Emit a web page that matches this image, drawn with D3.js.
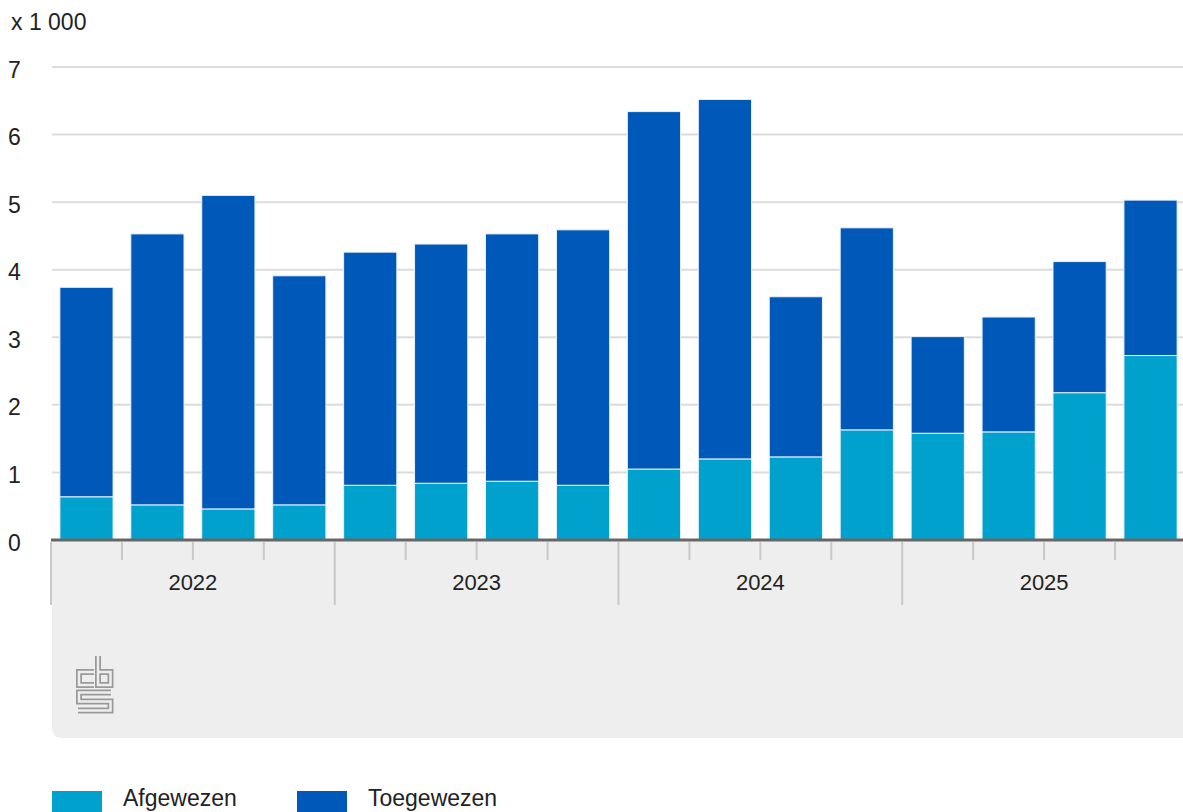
<!DOCTYPE html>
<html><head><meta charset="utf-8">
<script src="https://cdn.jsdelivr.net/npm/d3@7"></script>
<style>
html,body{margin:0;padding:0;background:#fff;overflow:hidden}
svg{display:block;font-family:"Liberation Sans",Arial,Helvetica,sans-serif}
</style></head><body>
<svg id="c" width="1183" height="812"></svg>
<script>
const quarters = ["2022 Q1","2022 Q2","2022 Q3","2022 Q4","2023 Q1","2023 Q2","2023 Q3","2023 Q4","2024 Q1","2024 Q2","2024 Q3","2024 Q4","2025 Q1","2025 Q2","2025 Q3","2025 Q4"];
const years = ["2022","2023","2024","2025"];
const afgewezen  = [640,520,460,520,810,840,870,810,1050,1200,1230,1630,1580,1600,2180,2730];
const toegewezen = [3100,4010,4640,3390,3450,3540,3660,3780,5290,5320,2370,2990,1430,1700,1940,2300];
const yTicks = [0,1,2,3,4,5,6,7];
const seriesNames = ["Afgewezen","Toegewezen"];
const colors = ["#00a1cd","#0058b8"];

const svg = d3.select("#c");
const x0 = 51, x1 = 1186, yBase = 540;
const x = d3.scaleBand().domain(quarters).range([x0, x1]).paddingInner(0.25).paddingOuter(0.125);
const y = d3.scaleLinear().domain([0, 7000]).range([yBase, 67]);
const step = x.step();

// grey x-axis band
const bandTop = 541, bandBot = 738, r = 10;
svg.append("path")
  .attr("d", `M${x0+1},${bandTop} H1183 V${bandBot} H${x0+1+r} Q${x0+1},${bandBot} ${x0+1},${bandBot-r} Z`)
  .attr("fill", "#eeeeee");

// gridlines
svg.append("g").selectAll("line").data(yTicks.slice(1)).join("line")
  .attr("x1", 52).attr("x2", 1183)
  .attr("y1", d => y(d*1000)).attr("y2", d => y(d*1000))
  .attr("stroke", "#dcdcdc").attr("stroke-width", 2);

// y labels
svg.append("g").selectAll("text").data(yTicks).join("text")
  .attr("x", 8).attr("y", d => y(d*1000) + 10.5)
  .attr("font-size", 23).attr("fill", "#222").text(d => d);
svg.append("text").attr("x", 11).attr("y", 30).attr("font-size", 23).attr("fill", "#222").text("x 1 000");

// stacked bars
const data = quarters.map((q, i) => ({q, Afgewezen: afgewezen[i], Toegewezen: toegewezen[i]}));
const stack = d3.stack().keys(seriesNames)(data);
svg.append("g").selectAll("g").data(stack).join("g")
  .attr("fill", (d, i) => colors[i])
  .selectAll("rect").data(d => d).join("rect")
  .attr("x", d => x(d.data.q)).attr("width", x.bandwidth())
  .attr("y", d => y(d[1])).attr("height", d => y(d[0]) - y(d[1]))
  .attr("stroke", "#e8f2fb").attr("stroke-width", 1);

// baseline
svg.append("line").attr("x1", x0).attr("x2", 1183).attr("y1", yBase).attr("y2", yBase)
  .attr("stroke", "#666").attr("stroke-width", 3);

// quarter ticks
const bounds = d3.range(0, quarters.length + 1);
svg.append("g").selectAll("line").data(bounds).join("line")
  .attr("x1", i => x0 + i*step).attr("x2", i => x0 + i*step)
  .attr("y1", yBase + 2).attr("y2", i => i % 4 === 0 ? 605 : 560)
  .attr("stroke", "#c8c8c8").attr("stroke-width", 2);

// year labels
svg.append("g").selectAll("text").data(years).join("text")
  .attr("x", (d, i) => x0 + (i*4 + 2)*step).attr("y", 590)
  .attr("text-anchor", "middle").attr("font-size", 22).attr("fill", "#222").text(d => d);

// CBS logo
const logo = svg.append("g").attr("fill", "none").attr("stroke-linejoin", "miter");
const logoPaths = [
  "M94,672 H79 V685 H94",
  "M98,656 V685 H110.5 V672 H98",
  "M111,692.5 H79 V701.5 H110.5 V710.5 H78"
];
logo.selectAll("path.o").data(logoPaths).join("path").attr("class","o").attr("d", d => d)
  .attr("stroke", "#999").attr("stroke-width", 6);
logo.selectAll("path.i").data(logoPaths).join("path").attr("class","i").attr("d", d => d)
  .attr("stroke", "#eeeeee").attr("stroke-width", 2.5);

// legend
const leg = svg.append("g");
const legX = [52, 297];
seriesNames.forEach((n, i) => {
  leg.append("rect").attr("x", legX[i]).attr("y", 791).attr("width", 50).attr("height", 22).attr("fill", colors[i]);
  leg.append("text").attr("x", legX[i] + 71).attr("y", 806).attr("font-size", 23).attr("fill", "#222").text(n);
});
</script>
</body></html>
